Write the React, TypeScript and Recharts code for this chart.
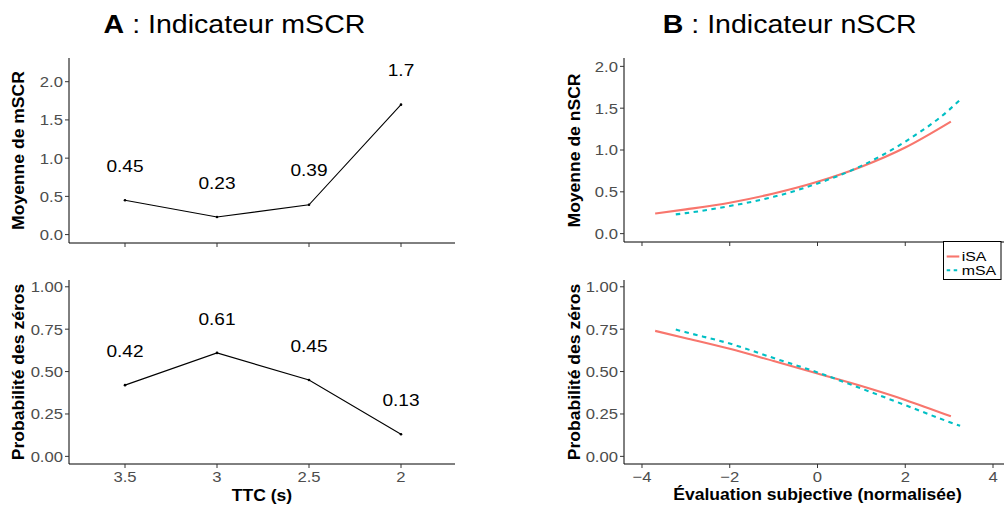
import React from 'react';
import { LineChart, Line, XAxis, YAxis, LabelList } from 'recharts';

// ---- Data ----
const ttcCategories = ['3.5', '3', '2.5', '2'];
const mscrMeans = [0.45, 0.23, 0.39, 1.7];
const zeroProbTtc = [0.42, 0.61, 0.45, 0.13];

const isaX = [-3.7, -3, -2, -1, 0, 1, 2, 3.04];
const isaMean = [0.24, 0.29, 0.37, 0.48, 0.62, 0.8, 1.03, 1.34];
const isaZero = [0.74, 0.697, 0.634, 0.562, 0.489, 0.415, 0.333, 0.236];

const msaX = [-3.23, -3, -2, -1, 0, 1, 2, 3, 3.25];
const msaMean = [0.23, 0.245, 0.33, 0.44, 0.6, 0.81, 1.1, 1.48, 1.6];
const msaZero = [0.748, 0.732, 0.665, 0.58, 0.495, 0.4, 0.302, 0.203, 0.18];

const meanTicksA = [0, 0.5, 1, 1.5, 2];
const probTicks = [0, 0.25, 0.5, 0.75, 1];
const evalTicks = [-4, -2, 0, 2, 4];
const seriesNames = ['iSA', 'mSA'];

const aTopData = ttcCategories.map((c, i) => ({ ttc: c, v: mscrMeans[i] }));
const aBotData = ttcCategories.map((c, i) => ({ ttc: c, v: zeroProbTtc[i] }));
const isaMeanData = isaX.map((x, i) => ({ x, y: isaMean[i] }));
const msaMeanData = msaX.map((x, i) => ({ x, y: msaMean[i] }));
const isaZeroData = isaX.map((x, i) => ({ x, y: isaZero[i] }));
const msaZeroData = msaX.map((x, i) => ({ x, y: msaZero[i] }));

// ---- Styles ----
const FONT = '"Liberation Sans", Arial, Helvetica, sans-serif';
const SX = 1.11;
const RED = '#F8766D';
const CYAN = '#00BFC4';
const TICK_GRAY = '#4D4D4D';

const f1 = (v: number) => v.toFixed(1);
const f2 = (v: number) => v.toFixed(2);
const fInt = (v: number) => (v < 0 ? '\u2212' + Math.abs(v) : String(v));
const fCat = (v: any) => String(v);

function YTick(props: any) {
  const { x, y, payload, fmt } = props;
  return (
    <g transform={`translate(${x},${y + 5.4}) scale(${SX},1)`}>
      <text x={0} y={0} textAnchor="end" fill={TICK_GRAY} fontSize={15}>
        {fmt(payload.value)}
      </text>
    </g>
  );
}

function XTick(props: any) {
  const { x, y, payload, fmt } = props;
  return (
    <g transform={`translate(${x},${y + 11.5}) scale(${SX},1)`}>
      <text x={0} y={0} textAnchor="middle" fill={TICK_GRAY} fontSize={15}>
        {fmt(payload.value)}
      </text>
    </g>
  );
}

function DataLabel(props: any) {
  const { x, y, value } = props;
  return (
    <g transform={`translate(${x},${y - 28.3}) scale(${SX},1)`}>
      <text x={0} y={0} textAnchor="middle" fill="#000" fontSize={17.2}>
        {String(value)}
      </text>
    </g>
  );
}

const axisLine = { stroke: '#000', strokeWidth: 1 };
const tickLine = { stroke: '#333', strokeWidth: 1 };

function PanelA({ data, domain, ticks, fmt, showX, height, top }: any) {
  return (
    <LineChart
      width={470}
      height={height}
      data={data}
      margin={{ top, right: 15, bottom: 0, left: 0 }}
    >
      <XAxis
        dataKey="ttc"
        type="category"
        padding={{ left: 56, right: 54 }}
        height={height - top - (showX ? 184 : 185)}
        axisLine={axisLine}
        tickLine={tickLine}
        tickSize={4}
        tickMargin={2}
        tick={showX ? (p: any) => <XTick {...p} fmt={fCat} /> : () => <g />}
      />
      <YAxis
        type="number"
        width={69}
        domain={domain}
        ticks={ticks}
        axisLine={axisLine}
        tickLine={tickLine}
        tickSize={4}
        tickMargin={2}
        tick={(p: any) => <YTick {...p} fmt={fmt} />}
      />
      <Line
        dataKey="v"
        stroke="#000"
        strokeWidth={1.1}
        dot={{ r: 1.3, fill: '#000', stroke: 'none' }}
        isAnimationActive={false}
      >
        <LabelList dataKey="v" content={(p: any) => <DataLabel {...p} />} />
      </Line>
    </LineChart>
  );
}

function PanelB({ isaData, msaData, domain, ticks, fmt, showX, height, top }: any) {
  return (
    <LineChart width={471} height={height} margin={{ top, right: 0, bottom: 0, left: 0 }}>
      <XAxis
        dataKey="x"
        type="number"
        domain={[-4.41, 4.41]}
        allowDataOverflow
        ticks={evalTicks}
        height={height - top - 184}
        axisLine={axisLine}
        tickLine={tickLine}
        tickSize={4}
        tickMargin={2}
        tick={showX ? (p: any) => <XTick {...p} fmt={fInt} /> : () => <g />}
      />
      <YAxis
        type="number"
        width={84}
        domain={domain}
        ticks={ticks}
        axisLine={axisLine}
        tickLine={tickLine}
        tickSize={4}
        tickMargin={2}
        tick={(p: any) => <YTick {...p} fmt={fmt} />}
      />
      <Line
        data={isaData}
        dataKey="y"
        name={seriesNames[0]}
        type="monotone"
        stroke={RED}
        strokeWidth={2.1}
        dot={false}
        isAnimationActive={false}
      />
      <Line
        data={msaData}
        dataKey="y"
        name={seriesNames[1]}
        type="monotone"
        stroke={CYAN}
        strokeWidth={2.1}
        strokeDasharray="4.5 4.5"
        dot={false}
        isAnimationActive={false}
      />
    </LineChart>
  );
}

function RotLabel({ x, y, text }: any) {
  return (
    <g transform={`translate(${x},${y}) rotate(-90) scale(${SX},1)`}>
      <text x={0} y={0} textAnchor="middle" fontWeight="bold" fontSize={15.8} fill="#000">
        {text}
      </text>
    </g>
  );
}

function HLabel({ x, y, text }: any) {
  return (
    <g transform={`translate(${x},${y}) scale(${SX},1)`}>
      <text x={0} y={0} textAnchor="middle" fontWeight="bold" fontSize={15.8} fill="#000">
        {text}
      </text>
    </g>
  );
}

function Title({ x, letter, rest }: any) {
  return (
    <g transform={`translate(${x},33) scale(1.12,1)`}>
      <text x={0} y={0} textAnchor="middle" fontSize={25.5} fill="#000">
        <tspan fontWeight="bold">{letter}</tspan>
        <tspan>{rest}</tspan>
      </text>
    </g>
  );
}

export default function App() {
  return (
    <div
      style={{
        position: 'absolute',
        left: 0,
        top: 0,
        width: 1004,
        height: 507,
        overflow: 'hidden',
        background: '#fff',
        fontFamily: FONT,
      }}
    >
      <div style={{ position: 'absolute', left: 0, top: 0 }}>
        <PanelA data={aTopData} domain={[-0.11, 2.31]} ticks={meanTicksA} fmt={f1} showX={false} height={263} top={58} />
      </div>
      <div style={{ position: 'absolute', left: 0, top: 250 }}>
        <PanelA data={aBotData} domain={[-0.045, 1.04]} ticks={probTicks} fmt={f2} showX={true} height={257} top={30} />
      </div>
      <div style={{ position: 'absolute', left: 540, top: 0 }}>
        <PanelB isaData={isaMeanData} msaData={msaMeanData} domain={[-0.1, 2.1]} ticks={meanTicksA} fmt={f1} showX={false} height={262} top={58} />
      </div>
      <div style={{ position: 'absolute', left: 540, top: 250 }}>
        <PanelB isaData={isaZeroData} msaData={msaZeroData} domain={[-0.045, 1.04]} ticks={probTicks} fmt={f2} showX={true} height={257} top={30} />
      </div>
      <svg
        width={1004}
        height={507}
        style={{ position: 'absolute', left: 0, top: 0, pointerEvents: 'none', fontFamily: FONT }}
      >
        <Title x={234.5} letter="A" rest=" : Indicateur mSCR" />
        <Title x={789.7} letter="B" rest=" : Indicateur nSCR" />
        <RotLabel x={24} y={150.5} text="Moyenne de mSCR" />
        <RotLabel x={24} y={372} text="Probabilité des zéros" />
        <RotLabel x={580} y={150.5} text="Moyenne de nSCR" />
        <RotLabel x={580} y={372} text="Probabilité des zéros" />
        <HLabel x={262} y={500.5} text="TTC (s)" />
        <HLabel x={817.5} y={500} text="Évaluation subjective (normalisée)" />
        <rect x={943.5} y={241.5} width={57.5} height={38} fill="#fff" stroke="#000" strokeWidth={1} />
        <line x1={946.7} x2={959.3} y1={256.5} y2={256.5} stroke={RED} strokeWidth={2.1} />
        <line x1={946.7} x2={959.3} y1={270.2} y2={270.2} stroke={CYAN} strokeWidth={2.1} strokeDasharray="3.5 3.5" />
        <g transform={`translate(961.7,261.2) scale(1.17,1)`}>
          <text x={0} y={0} fontSize={13.6} fill="#000">{seriesNames[0]}</text>
        </g>
        <g transform={`translate(961.7,275.3) scale(1.17,1)`}>
          <text x={0} y={0} fontSize={13.6} fill="#000">{seriesNames[1]}</text>
        </g>
      </svg>
    </div>
  );
}
